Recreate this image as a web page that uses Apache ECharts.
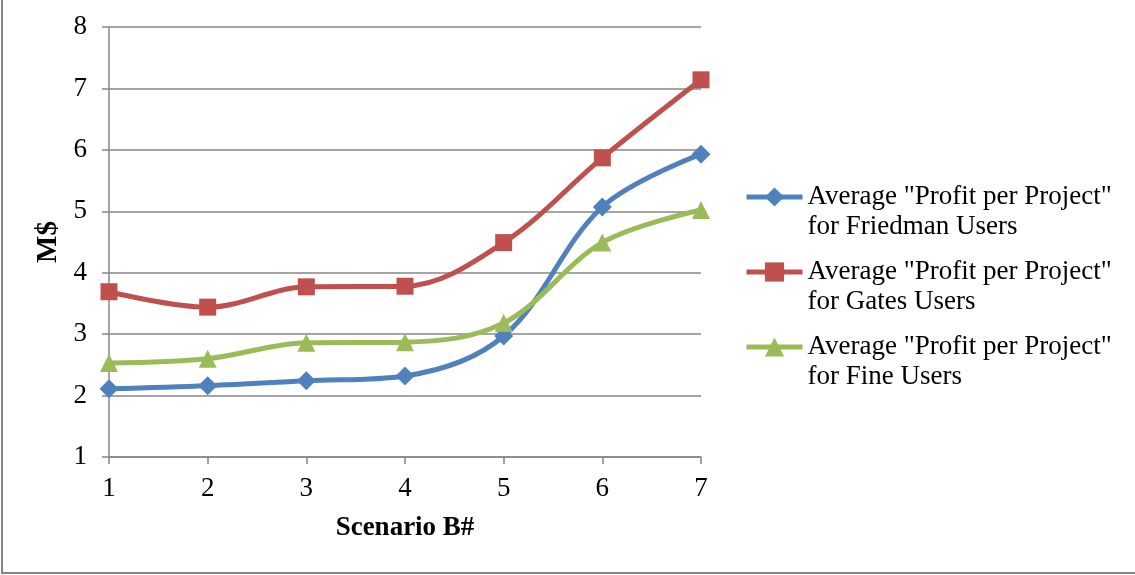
<!DOCTYPE html>
<html>
<head>
<meta charset="utf-8">
<script src="https://cdn.jsdelivr.net/npm/echarts@6/dist/echarts.min.js"></script>
<style>
html,body{margin:0;padding:0;background:#fff;}
#chart{width:1135px;height:575px;}
</style>
</head>
<body>
<div id="chart"></div>
<script>
var scenarios = [1, 2, 3, 4, 5, 6, 7];
var friedman = [2.11, 2.16, 2.24, 2.32, 2.97, 5.07, 5.93];
var gates = [3.69, 3.44, 3.77, 3.78, 4.49, 5.87, 7.14];
var fine = [2.53, 2.60, 2.86, 2.87, 3.18, 4.49, 5.02];
var seriesNames = [
  'Average "Profit per Project"\nfor Friedman Users',
  'Average "Profit per Project"\nfor Gates Users',
  'Average "Profit per Project"\nfor Fine Users'
];
var colors = ['#4F81BD', '#C0504D', '#9BBB59'];
var yTicks = [1, 2, 3, 4, 5, 6, 7, 8];

function pairs(vals) {
  return scenarios.map(function (s, i) { return [s, vals[i]]; });
}

var font = '"Liberation Serif", "DejaVu Serif", serif';
var chart = echarts.init(document.getElementById('chart'), null, {renderer: 'canvas'});
var gridColor = '#878787';

chart.setOption({
  animation: false,
  backgroundColor: '#fff',
  textStyle: {fontFamily: font},
  grid: {left: 109, right: 434, top: 27, bottom: 118},
  xAxis: {
    type: 'value', min: 1, max: 7, interval: 1,
    name: 'Scenario B#', nameLocation: 'middle', nameGap: 58,
    nameTextStyle: {fontFamily: font, fontSize: 27, fontWeight: 'bold', color: '#000'},
    axisLine: {lineStyle: {color: gridColor, width: 1.5}},
    axisTick: {show: true, length: 7, lineStyle: {color: gridColor, width: 1.5}},
    axisLabel: {fontFamily: font, fontSize: 27, color: '#000', margin: 18},
    splitLine: {show: false}
  },
  yAxis: {
    type: 'value', min: 1, max: 8, interval: 1,
    name: 'M$', nameLocation: 'middle', nameGap: 43, nameRotate: 90,
    nameTextStyle: {fontFamily: font, fontSize: 29, fontWeight: 'bold', color: '#000'},
    axisLine: {show: true, lineStyle: {color: gridColor, width: 1.5}},
    axisTick: {show: true, length: 7, lineStyle: {color: gridColor, width: 1.5}},
    axisLabel: {fontFamily: font, fontSize: 27, color: '#000', margin: 22,
      formatter: function (v) { return yTicks.indexOf(v) >= 0 ? String(v) : ''; }},
    splitLine: {show: true, lineStyle: {color: gridColor, width: 1.5}}
  },
  legend: {
    orient: 'vertical', left: 739, top: 147,
    itemWidth: 56, itemHeight: 24, itemGap: -15,
    lineStyle: {width: 5},
    formatter: function (name) { return '\n' + name; },
    textStyle: {fontFamily: font, fontSize: 27, color: '#000', lineHeight: 30},
    data: seriesNames
  },
  graphic: [
    {type: 'line', shape: {x1: 2, y1: 0, x2: 2, y2: 573}, style: {stroke: '#868686', lineWidth: 2}, silent: true},
    {type: 'line', shape: {x1: 1, y1: 573, x2: 1135, y2: 573}, style: {stroke: '#868686', lineWidth: 2}, silent: true}
  ],
  series: [
    {name: seriesNames[0], type: 'line', data: pairs(friedman), smooth: 0.35,
     symbol: 'diamond', symbolSize: 19, color: colors[0],
     lineStyle: {width: 5, color: colors[0]}, itemStyle: {color: colors[0]}},
    {name: seriesNames[1], type: 'line', data: pairs(gates), smooth: 0.35,
     symbol: 'rect', symbolSize: 17, color: colors[1],
     lineStyle: {width: 5, color: colors[1]}, itemStyle: {color: colors[1]}},
    {name: seriesNames[2], type: 'line', data: pairs(fine), smooth: 0.35,
     symbol: 'triangle', symbolSize: 18, color: colors[2],
     lineStyle: {width: 5, color: colors[2]}, itemStyle: {color: colors[2]}}
  ]
});
</script>
</body>
</html>
